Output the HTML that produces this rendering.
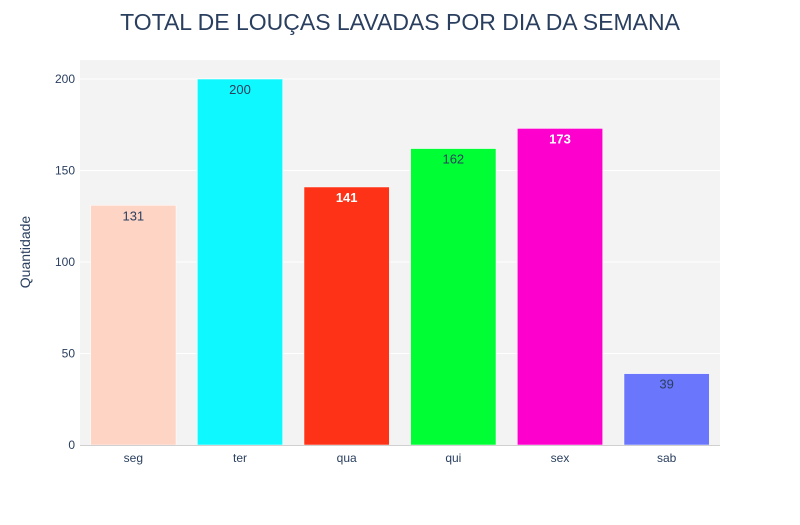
<!DOCTYPE html>
<html><head><meta charset="utf-8"><style>
body{margin:0;background:#fff;}
svg{display:block;font-family:"Liberation Sans",Arial,sans-serif;}
</style></head><body>
<svg id="chart" width="800" height="525">
<rect x="0" y="0" width="800" height="525" fill="#fff"/>
<text x="400" y="30" text-anchor="middle" font-size="23" fill="#2a3f5f">TOTAL DE LOUÇAS LAVADAS POR DIA DA SEMANA</text>
<rect x="80" y="60" width="640" height="385" fill="#f3f3f3"/>
<g id="grid"></g><g id="bars"></g><g id="axes"></g>
<text transform="translate(30,252) rotate(-90)" text-anchor="middle" font-size="14" fill="#2a3f5f">Quantidade</text>
</svg>
<script>
const categories=["seg","ter","qua","qui","sex","sab"];
const values=[131,200,141,162,173,39];
const colors=["#FED4C4","#0DF9FF","#FD3216","#00FE35","#FE00CE","#6A76FC"];
const labelColors=["#2a3f5f","#2a3f5f","#ffffff","#2a3f5f","#ffffff","#2a3f5f"];
const yTicks=[0,50,100,150,200];
const NS="http://www.w3.org/2000/svg";
const X0=80,W=640,Y0=445,H=385,YMAX=210.4;
const y=v=>Y0-v/YMAX*H;
const band=W/categories.length;
const xc=i=>X0+band*(i+0.5);
function mk(t,a,p){const e=document.createElementNS(NS,t);for(const k in a)e.setAttribute(k,a[k]);p.appendChild(e);return e;}
const grid=document.getElementById('grid'),bars=document.getElementById('bars'),axes=document.getElementById('axes');
yTicks.forEach(t=>{
 if(t>0){const l=mk('line',{x1:X0,x2:X0+W,y1:y(t),y2:y(t),stroke:'#fff','stroke-width':1},grid);
 
 }
 const tx=mk('text',{x:75,y:y(t)+4,'text-anchor':'end','font-size':12,fill:'#2a3f5f'},axes);
 tx.textContent=t;
 
 
});
const bl=mk('line',{x1:X0,x2:X0+W,y1:Y0+0.5,y2:Y0+0.5,stroke:'#d0d0d0','stroke-width':1},axes);


const bw=band*0.8;
categories.forEach((c,i)=>{
 const r=mk('rect',{x:xc(i)-bw/2,y:y(values[i]),width:bw,height:Y0-y(values[i]),fill:colors[i],stroke:'#fff','stroke-width':0.5},bars);
 
 
 const lb=mk('text',{x:xc(i),y:y(values[i])+15,'text-anchor':'middle','font-size':13,fill:labelColors[i],'font-weight':labelColors[i]=='#ffffff'?'bold':'normal'},bars);
 lb.textContent=values[i];
 
 
 const tx=mk('text',{x:xc(i),y:Y0+17,'text-anchor':'middle','font-size':12,fill:'#2a3f5f'},axes);
 tx.textContent=c;
 
 
});
</script>
</body></html>
